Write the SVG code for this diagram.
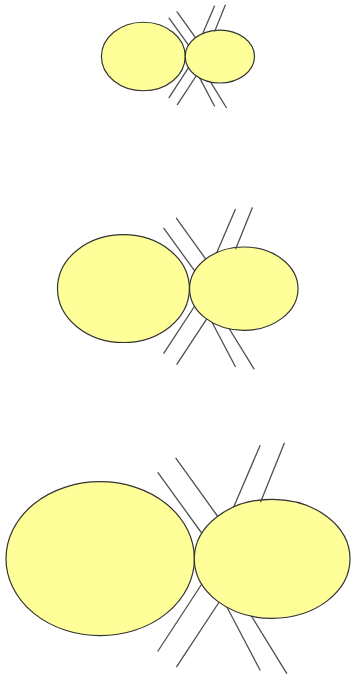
<svg xmlns="http://www.w3.org/2000/svg" width="353" height="675" viewBox="0 0 353 675">
<style>
.n{fill:#ffff99;stroke:#333;stroke-width:1.2}
.c{stroke:#505050;stroke-width:1.3;fill:none;stroke-linecap:round}
</style>
<rect width="353" height="675" fill="#fff"/>
<g id="connectors">
<!-- diagram 1 -->
<line class="c" x1="169.05" y1="18.23" x2="189.43" y2="46.4"/>
<line class="c" x1="198.06" y1="74.88" x2="214.44" y2="106.03"/>
<line class="c" x1="177.06" y1="11.82" x2="196.77" y2="39.28"/>
<line class="c" x1="208.92" y1="79.33" x2="226.32" y2="107.5"/>
<line class="c" x1="214.44" y1="6.21" x2="202.15" y2="34.83"/>
<line class="c" x1="169.05" y1="97.57" x2="189.69" y2="65.98"/>
<line class="c" x1="177.37" y1="104.56" x2="197.44" y2="73.99"/>
<!-- diagram 2 -->
<line class="c" x1="163.89" y1="228.4" x2="195.95" y2="272.71"/>
<line class="c" x1="209.53" y1="317.51" x2="235.29" y2="366.51"/>
<line class="c" x1="176.49" y1="218.32" x2="207.5" y2="261.51"/>
<line class="c" x1="226.61" y1="324.51" x2="253.98" y2="368.82"/>
<line class="c" x1="235.29" y1="209.5" x2="215.97" y2="254.51"/>
<line class="c" x1="163.89" y1="353.21" x2="196.37" y2="303.51"/>
<line class="c" x1="176.98" y1="364.2" x2="208.55" y2="316.11"/>
<!-- diagram 3 -->
<line class="c" x1="158" y1="472.7" x2="203.8" y2="536"/>
<line class="c" x1="223.2" y1="600" x2="260" y2="670"/>
<line class="c" x1="176" y1="458.3" x2="220.3" y2="520"/>
<line class="c" x1="247.6" y1="610" x2="286.7" y2="673.3"/>
<line class="c" x1="260" y1="445.7" x2="232.4" y2="510"/>
<line class="c" x1="158" y1="651" x2="204.4" y2="580"/>
<line class="c" x1="176.7" y1="666.7" x2="221.8" y2="598"/>
</g>
<g id="node-1a"><ellipse class="n" cx="143.33" cy="56.5" rx="41.92" ry="34.27"/></g>
<g id="node-1b"><ellipse class="n" cx="219.84" cy="56.54" rx="34.64" ry="26.48"/></g>
<g id="node-2a"><ellipse class="n" cx="123.43" cy="288.6" rx="65.94" ry="53.9"/></g>
<g id="node-2b"><ellipse class="n" cx="243.8" cy="288.67" rx="54.2" ry="41.65"/></g>
<g id="node-3a"><ellipse class="n" cx="100.2" cy="558.7" rx="94.2" ry="77"/></g>
<g id="node-3b"><ellipse class="n" cx="272.15" cy="558.8" rx="77.85" ry="59.5"/></g>
<g id="connectors-over">
<line class="c" x1="225.25" y1="5.15" x2="214.75" y2="31.13"/>
<line class="c" x1="252.3" y1="207.82" x2="235.78" y2="248.7"/>
<line class="c" x1="284.3" y1="443.3" x2="260.7" y2="501.7"/>
</g>
</svg>
